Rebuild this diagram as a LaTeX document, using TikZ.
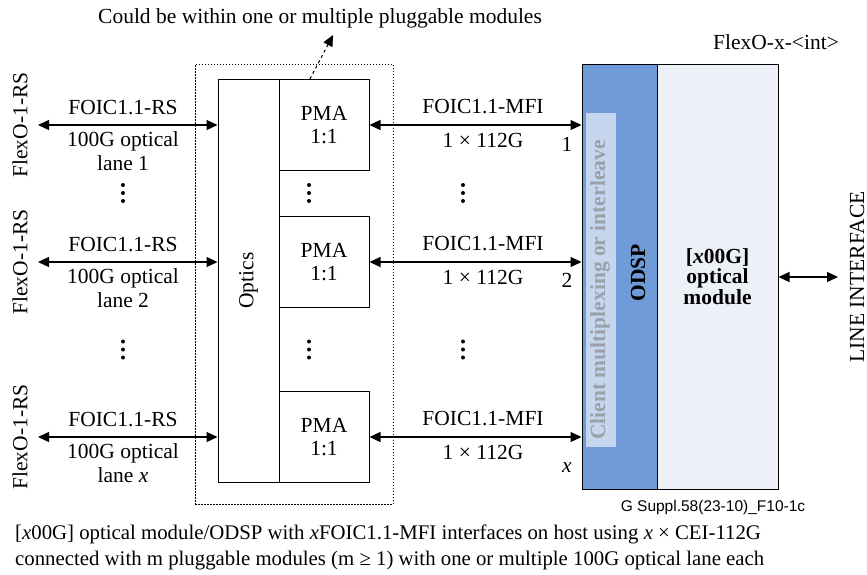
\documentclass[tikz,border=0pt]{standalone}
\usepackage{fontspec}
\setmainfont{Liberation Serif}
\newfontfamily\figsans{Liberation Sans}
\usetikzlibrary{arrows.meta, positioning}

\definecolor{odspblue}{HTML}{6F9BD8}
\definecolor{muxblue}{HTML}{C5D6EE}
\definecolor{modfill}{HTML}{EDF1F7}
\definecolor{muxtext}{HTML}{9CA0A8}

\begin{document}
\begin{tikzpicture}[x=1pt, y=-1pt,
        box/.style={draw, line width=1pt, inner sep=0pt},
        lbl/.style={font=\fontsize{21.5}{23.5}\selectfont, align=center, inner sep=0pt},
        boldlbl/.style={font=\fontsize{21.5}{20.5}\selectfont\bfseries, align=center, inner sep=0pt},
        biarrow/.style={{Triangle[length=11pt,width=10pt]}-{Triangle[length=11pt,width=10pt]}, line width=1.2pt},
        plugbox/.style={draw, line width=1pt, dash pattern=on 1.5pt off 1.5pt}
    ]
        \useasboundingbox (0,0) rectangle (867,574);

        % pluggable modules
        \node[plugbox, minimum width=198pt, minimum height=440pt] (plug) at (294,284) {};
        \node[box, minimum width=61pt, minimum height=403pt] (optics) at (248.5,280.5) {};
        \node[lbl, rotate=90] at (optics.center) {Optics};
        \foreach \n/\y in {1/125, 2/262, 3/437}
            \node[box, lbl, minimum width=90pt, minimum height=91pt] (pma\n) at (324,\y) {PMA\\1:1};

        % note
        \node[lbl] (note) at (320,18) {Could be within one or multiple pluggable modules};
        \coordinate (notetip) at (333,35);
        \draw[dashed, line width=1pt, -{Triangle[length=11pt,width=10pt]}] ([xshift=-14pt]pma1.north) -- (notetip);

        % ODSP and optical module
        \node[box, fill=odspblue, minimum width=75pt, minimum height=425pt] (odsp) at (619.5,276.5) {};
        \node[fill=muxblue, minimum width=30pt, minimum height=334pt, inner sep=0pt] (mux) at (601,280) {};
        \node[boldlbl, rotate=90, text=muxtext] at (600,290) {Client multiplexing or interleave};
        \node[boldlbl, rotate=90] at (638,273) {ODSP};
        \node[box, boldlbl, fill=modfill, minimum width=121pt, minimum height=425pt] (omod) at (717.5,276.5) {[\textit{x}00G]\\optical\\module};
        \node[lbl] at (776,42) {FlexO-x-<int>};

        % lanes
        \foreach \n/\y/\lane/\ty in {1/125/1/144, 2/262/2/280, 3/437/{\textit{x}}/468} {
            \coordinate (host\n) at (38,\y);
            \draw[biarrow] (host\n) -- (optics.west |- host\n);
            \draw[biarrow] (pma\n.east) -- (odsp.west |- pma\n.east);
            \node[lbl] at (123,\y-17) {FOIC1.1-RS};
            \node[lbl] at (123,\y+26) {100G optical\\lane \lane};
            \node[lbl, rotate=90] at (20,\y) {FlexO-1-RS};
            \node[lbl] at (483,\y-18) {FOIC1.1-MFI};
            \node[lbl] at (483,\y+15) {1 × 112G};
            \node[lbl] at (567,\ty) {\lane};
        }
        \foreach \x in {123, 309, 463}
            \foreach \y in {193, 349.5}
                \foreach \d in {-8, 0, 8}
                    \fill (\x,\y+\d) circle (2pt);

        % line side
        \coordinate (line) at (838,277);
        \draw[biarrow] (omod.east |- line) -- (line);
        \node[lbl, rotate=90] at (857,277) {LINE INTERFACE};

        % captions
        \node[font=\figsans\fontsize{15.5}{18}\selectfont, inner sep=0pt] at (713,507) {G Suppl.58(23-10)\_F10-1c};
        \node[font=\fontsize{20.8}{26}\selectfont, align=left, anchor=west, inner sep=0pt] at (15,547) {[\textit{x}00G] optical module/ODSP with \textit{x}FOIC1.1-MFI interfaces on host using \textit{x} × CEI-112G\\connected with m pluggable modules (m ≥ 1) with one or multiple 100G optical lane each};

    \end{tikzpicture}
\end{document}
